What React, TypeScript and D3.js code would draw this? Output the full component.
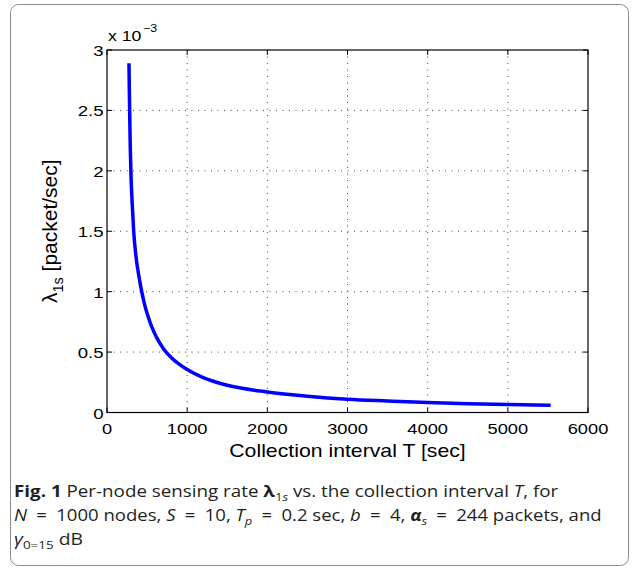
import React, { useLayoutEffect, useRef, useState } from "react";
import * as d3 from "d3";

// Collection interval T [sec]
const T_VALUES = [274, 280, 290, 300, 315, 333, 360, 400, 433, 474, 520, 557, 620, 702, 800, 900, 1000, 1200, 1500, 2000, 2500, 3000, 3500, 4000, 4500, 5000, 5535];
// Per-node sensing rate λ1s [x 1e-3 packet/sec]
const RATE_VALUES = [2.89, 2.6, 2.2, 1.95, 1.72, 1.5, 1.3, 1.12, 1.0, 0.88, 0.78, 0.71, 0.62, 0.53, 0.455, 0.4, 0.355, 0.288, 0.225, 0.17, 0.135, 0.11, 0.095, 0.082, 0.073, 0.066, 0.06];

const X_TICKS = [0, 1000, 2000, 3000, 4000, 5000, 6000];
const Y_TICKS = [0, 0.5, 1, 1.5, 2, 2.5, 3];
const Y_TICK_LABELS = ["0", "0.5", "1", "1.5", "2", "2.5", "3"];

const W = 635;
const H = 568;
const PLOT = { left: 107, right: 588, top: 50, bottom: 412.5 };
const CAPTION_WIDTHS = [545, 588, 69];
const EQ = "\u2002=\u2002";

export default function App() {
  const x = d3.scaleLinear().domain([0, 6000]).range([PLOT.left, PLOT.right]);
  const y = d3.scaleLinear().domain([0, 3]).range([PLOT.bottom, PLOT.top]);
  const pts = T_VALUES.map((t, i) => [t, RATE_VALUES[i]] as [number, number]);
  const line = d3
    .line<[number, number]>()
    .x((d) => x(d[0]))
    .y((d) => y(d[1]))
    .curve(d3.curveMonotoneX);

  const capRefs = useRef<(SVGTextElement | null)[]>([]);
  const [scales, setScales] = useState([1, 1, 1]);
  useLayoutEffect(() => {
    const s = capRefs.current.map((el, i) => {
      if (!el) return 1;
      const w = el.getBBox().width;
      return w > 0 ? CAPTION_WIDTHS[i] / w : 1;
    });
    setScales(s);
  }, []);

  const axisFont = "'Liberation Sans', Arial, sans-serif";
  const capFont = "'Open Sans', 'Noto Sans', sans-serif";
  const tickLen = 5;

  return (
    <svg
      width={W}
      height={H}
      style={{ position: "absolute", left: 0, top: 0, background: "#fff" }}
    >
      <rect x={10.5} y={4.5} width={618} height={561} rx={8} fill="#fff" stroke="#8a8a8a" strokeWidth={1} />

      {/* grid */}
      {X_TICKS.filter((t) => t > 0 && t < 6000).map((t) => (
        <line key={"gx" + t} x1={x(t)} x2={x(t)} y1={PLOT.top} y2={PLOT.bottom} stroke="#444" strokeWidth={1} strokeDasharray="1,5.5" />
      ))}
      {Y_TICKS.filter((t) => t > 0 && t < 3).map((t) => (
        <line key={"gy" + t} x1={PLOT.left} x2={PLOT.right} y1={y(t)} y2={y(t)} stroke="#444" strokeWidth={1} strokeDasharray="1,5.5" />
      ))}

      {/* ticks inward on all sides */}
      {X_TICKS.map((t) => (
        <g key={"tx" + t}>
          <line x1={x(t)} x2={x(t)} y1={PLOT.bottom} y2={PLOT.bottom - tickLen} stroke="#000" />
          <line x1={x(t)} x2={x(t)} y1={PLOT.top} y2={PLOT.top + tickLen} stroke="#000" />
        </g>
      ))}
      {Y_TICKS.map((t) => (
        <g key={"ty" + t}>
          <line x1={PLOT.left} x2={PLOT.left + tickLen} y1={y(t)} y2={y(t)} stroke="#000" />
          <line x1={PLOT.right} x2={PLOT.right - tickLen} y1={y(t)} y2={y(t)} stroke="#000" />
        </g>
      ))}

      {/* curve */}
      <path d={line(pts) || ""} fill="none" stroke="#0000ff" strokeWidth={3.5} />

      {/* box */}
      <rect x={PLOT.left} y={PLOT.top} width={PLOT.right - PLOT.left} height={PLOT.bottom - PLOT.top} fill="none" stroke="#000" strokeWidth={1.2} />

      {/* tick labels */}
      {X_TICKS.map((t) => (
        <text
          key={"lx" + t}
          transform={`translate(${x(t)},433.5) scale(1.18,1)`}
          textAnchor="middle"
          fontFamily={axisFont}
          fontSize={15.5}
          fill="#000"
        >
          {t}
        </text>
      ))}
      {Y_TICKS.map((t, i) => (
        <text
          key={"ly" + t}
          transform={`translate(103.5,${y(t) + 6}) scale(1.2,1)`}
          textAnchor="end"
          fontFamily={axisFont}
          fontSize={15.5}
          fill="#000"
        >
          {Y_TICK_LABELS[i]}
        </text>
      ))}

      {/* exponent */}
      <text transform="translate(108,40.5) scale(1.18,1)" fontFamily={axisFont} fontSize={15} fill="#000">
        x 10
      </text>
      <text transform="translate(143,32) scale(1.18,1)" fontFamily={axisFont} fontSize={10.5} fill="#000">
        −3
      </text>

      {/* axis titles */}
      <text
        transform={`translate(${(PLOT.left + PLOT.right) / 2},456.7) scale(1.2,1)`}
        textAnchor="middle"
        fontFamily={axisFont}
        fontSize={17.7}
        fill="#000"
      >
        Collection interval T [sec]
      </text>
      <text
        transform={`translate(57,${(PLOT.top + PLOT.bottom) / 2}) rotate(-90)`}
        textAnchor="middle"
        fontFamily={axisFont}
        fontSize={21}
        fill="#000"
      >
        λ<tspan fontSize={14.5} dy={6}>1s</tspan>
        <tspan dy={-6}> [packet/sec]</tspan>
      </text>

      {/* caption */}
      <g fontFamily={capFont} fontSize={16.5} fill="#231f20">
        <g transform={`translate(14,497) scale(${scales[0]},1)`}>
          <text ref={(el) => { capRefs.current[0] = el; }} x={0} y={0}>
            <tspan fontWeight="bold">Fig. 1</tspan> Per-node sensing rate <tspan fontWeight="bold">λ</tspan>
            <tspan fontSize={11.5} dy={4}>1</tspan>
            <tspan fontSize={11.5} fontStyle="italic">s</tspan>
            <tspan dy={-4}> vs. the collection interval </tspan>
            <tspan fontStyle="italic">T</tspan>, for
          </text>
        </g>
        <g transform={`translate(14,521) scale(${scales[1]},1)`}>
          <text ref={(el) => { capRefs.current[1] = el; }} x={0} y={0}>
            <tspan fontStyle="italic">N</tspan>{EQ}1000 nodes, <tspan fontStyle="italic">S</tspan>{EQ}10,{" "}
            <tspan fontStyle="italic">T</tspan>
            <tspan fontSize={11.5} fontStyle="italic" dy={4}>p</tspan>
            <tspan dy={-4}>{EQ}0.2 sec, </tspan>
            <tspan fontStyle="italic">b</tspan>{EQ}4, <tspan fontStyle="italic" fontWeight="bold">α</tspan>
            <tspan fontSize={11.5} fontStyle="italic" dy={4}>s</tspan>
            <tspan dy={-4}>{EQ}244 packets, and</tspan>
          </text>
        </g>
        <g transform={`translate(14,545) scale(${scales[2]},1)`}>
          <text ref={(el) => { capRefs.current[2] = el; }} x={0} y={0}>
            <tspan fontStyle="italic">γ</tspan>
            <tspan fontSize={11.5} dy={4}>0=15</tspan>
            <tspan dy={-4}> dB</tspan>
          </text>
        </g>
      </g>
    </svg>
  );
}
